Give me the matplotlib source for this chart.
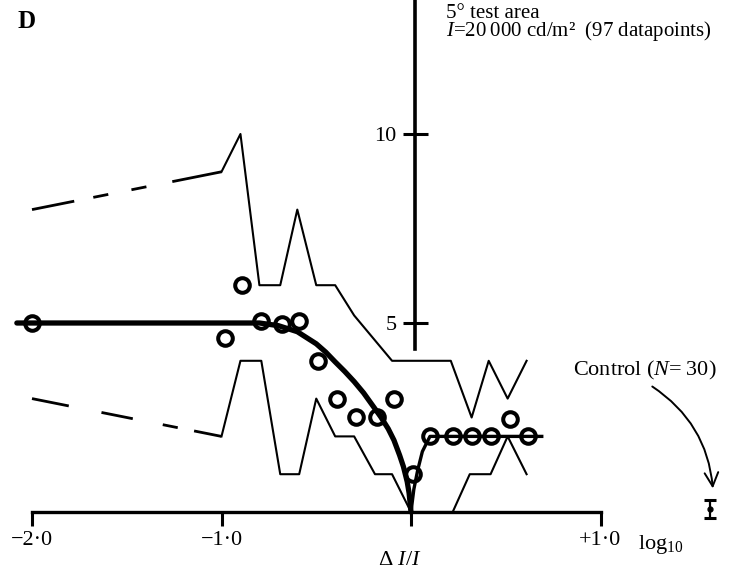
import matplotlib.pyplot as plt
from matplotlib.patches import FancyArrowPatch

plt.rcParams['font.family'] = ['Liberation Serif', 'DejaVu Serif']
plt.rcParams['mathtext.fontset'] = 'custom'
plt.rcParams['mathtext.rm'] = 'Liberation Serif'
plt.rcParams['mathtext.it'] = 'Liberation Serif:italic'
plt.rcParams['mathtext.bf'] = 'Liberation Serif:bold'
plt.rcParams['lines.scale_dashes'] = False

# upper / lower envelope, dashed part then solid part
upper_dash_x = [-2.0, -1.0]
upper_dash_y = [8.0, 9.0]
upper_x = [-1.0, -0.90, -0.80, -0.69, -0.60, -0.50, -0.40, -0.30, -0.10,
           0.21, 0.32, 0.41, 0.51, 0.61]
upper_y = [9.0, 10.0, 6.0, 6.0, 8.0, 6.0, 6.0, 5.2, 4.0,
           4.0, 2.5, 4.0, 3.0, 4.0]

lower_dash_x = [-2.0, -1.0]
lower_dash_y = [3.0, 2.0]
lower_x = [-1.0, -0.90, -0.79, -0.69, -0.59, -0.50, -0.40, -0.30, -0.19,
           -0.10, 0.0, 0.22, 0.31, 0.42, 0.51, 0.61]
lower_y = [2.0, 4.0, 4.0, 1.0, 1.0, 3.0, 2.0, 2.0, 1.0,
           1.0, 0.0, 0.0, 1.0, 1.0, 2.0, 1.0]

# fitted curves
fit_x = [-2.08, -0.80, -0.70, -0.60, -0.50, -0.45, -0.40, -0.35, -0.30,
         -0.25, -0.20, -0.16, -0.12, -0.09, -0.06, -0.04, -0.02, -0.01, 0.0]
fit_y = [5.0, 5.0, 4.93, 4.77, 4.45, 4.23, 3.97, 3.72, 3.45,
         3.15, 2.8, 2.52, 2.2, 1.9, 1.5, 1.2, 0.8, 0.5, 0.0]
fit2_x = [0.0, 0.015, 0.035, 0.06, 0.10, 0.69]
fit2_y = [0.0, 0.6, 1.1, 1.6, 2.0, 2.0]

# data points
pts_x = [-2.0, -0.98, -0.89, -0.79, -0.68, -0.59, -0.49, -0.39, -0.29,
         -0.18, -0.09, 0.01, 0.10, 0.22, 0.32, 0.42, 0.52, 0.62]
pts_y = [5.0, 4.6, 6.0, 5.05, 4.97, 5.05, 4.0, 3.0, 2.52,
         2.52, 3.0, 1.0, 2.0, 2.0, 2.0, 2.0, 2.45, 2.0]

# control
ctrl_x = [1.578]
ctrl_y = [0.08]
ctrl_err = [0.24]

xticks = [-2, -1, 0, 1]
xticklabels = ['\u22122\u00b70', '\u22121\u00b70', '', '+1\u00b70']
yticks = [5, 10]
yticklabels = ['5', '10']

fig = plt.figure(figsize=(7.46, 5.76), dpi=100)
ax = fig.add_axes([0, 0, 1, 1])
ax.set_xlim(-411 / 189.5, (746 - 411) / 189.5)
ax.set_ylim(-(576 - 512) / 37.8, 512 / 37.8)
ax.patch.set_alpha(0)

# envelopes
ax.plot(upper_dash_x, upper_dash_y, color='k', lw=2.0,
        linestyle=(0, (31, 14, 11, 17, 11, 19, 40)), solid_capstyle='butt')
ax.plot(upper_x, upper_y, color='k', lw=1.5)
ax.plot(lower_dash_x, lower_dash_y, color='k', lw=2.0,
        linestyle=(0, (27, 24, 23, 22, 11, 12, 30)), solid_capstyle='butt')
ax.plot(lower_x, lower_y, color='k', lw=1.5)

# curves
ax.plot(fit_x, fit_y, color='k', lw=3.8, solid_capstyle='round')
ax.plot(fit2_x, fit2_y, color='k', lw=2.4)

# points
ax.plot(pts_x, pts_y, 'o', color='k', mfc='none', mew=2.9, ms=10.5)

# control error bar
ax.errorbar(ctrl_x, ctrl_y, yerr=ctrl_err, fmt='o', color='k', ms=3.5,
            capsize=4, capthick=2.2, elinewidth=1.6)

# axes
for s in ['top', 'right']:
    ax.spines[s].set_visible(False)
ax.spines['left'].set_position(('data', 0.02))
ax.spines['left'].set_bounds(4.3, 13.6)
ax.spines['left'].set_linewidth(2.6)
ax.spines['bottom'].set_position(('data', 0))
ax.spines['bottom'].set_bounds(-2.0, 1.0)
ax.spines['bottom'].set_linewidth(2.4)

ax.set_xticks(xticks)
ax.set_xticklabels(xticklabels, fontsize=16)
ax.set_yticks(yticks)
ax.set_yticklabels(yticklabels, fontsize=16)
ax.tick_params(axis='x', direction='out', length=10, width=2.2, pad=4)
ax.tick_params(axis='y', direction='inout', length=18, width=2.2, pad=4)

# texts
ax.text(-2.074, 13.28, 'D', fontsize=18, fontweight='bold', ha='left', va='top')
ax.text(0.185, 13.43, '5\u00b0 test area\n$I$=20\u2009000 cd/m\u00b2  (97 datapoints)',
        fontsize=15, ha='left', va='top', linespacing=0.72)
ax.text(0.855, 3.6, 'Control ($N$=\u200930)', fontsize=16, ha='left', va='baseline')
ax.text(1.198, -0.98, 'log$_{10}$', fontsize=16, ha='left', va='baseline')
ax.text(-0.06, -1.40, '\u0394 $I$/$I$', fontsize=16, ha='center', va='baseline')

arrow = FancyArrowPatch((1.261, 3.36), (1.594, 0.55),
                        connectionstyle='arc3,rad=-0.25',
                        arrowstyle='->,head_length=0.7,head_width=0.35',
                        mutation_scale=14, color='k', lw=1.4)
ax.add_patch(arrow)

plt.savefig('out.png', dpi=100)
